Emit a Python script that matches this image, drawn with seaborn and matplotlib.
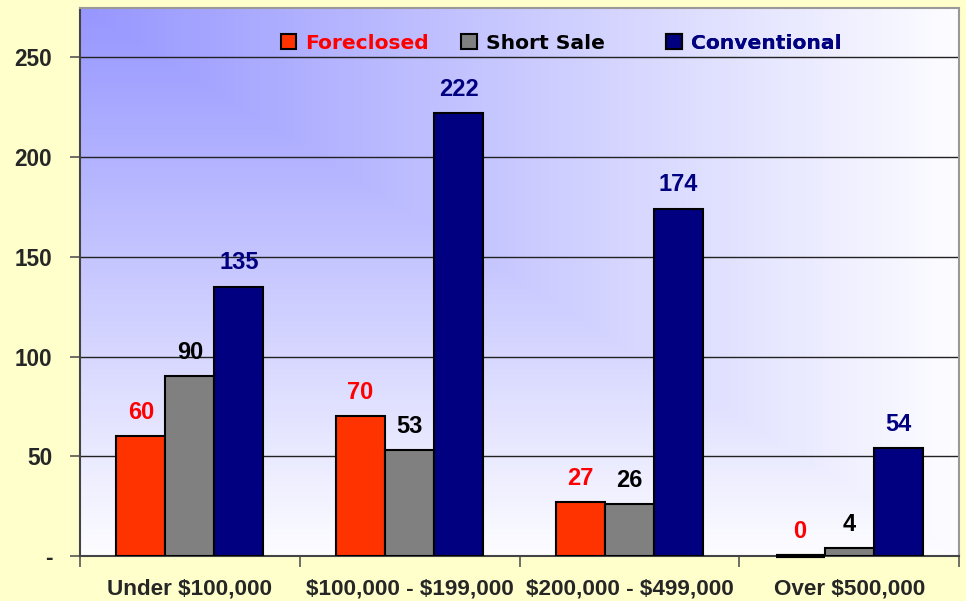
import numpy as np
import pandas as pd
import matplotlib
matplotlib.use("Agg")
import matplotlib.pyplot as plt
import seaborn as sns
from matplotlib.ticker import FuncFormatter

# Sales counts by price range
categories = ["Under $100,000", "$100,000 - $199,000", "$200,000 - $499,000", "Over $500,000"]
series_names = ["Foreclosed", "Short Sale", "Conventional"]
foreclosed = [60, 70, 27, 0]
short_sale = [90, 53, 26, 4]
conventional = [135, 222, 174, 54]
y_ticks = [0, 50, 100, 150, 200, 250]

bar_colors = ["#FF3300", "#808080", "#000080"]
label_colors = ["#FF0000", "#000000", "#000080"]

df = pd.DataFrame({
    "category": categories * 3,
    "series": [s for s in series_names for _ in categories],
    "value": foreclosed + short_sale + conventional,
})

sns.set_style("white")
plt.rcParams["font.family"] = ["Liberation Sans", "DejaVu Sans"]
plt.rcParams["text.parse_math"] = False

fig = plt.figure(figsize=(9.66, 6.01), dpi=100, facecolor="#FFFFCC")
ax = fig.add_axes([0.0828, 0.0749, 0.9100, 0.9126])

# Corner gradient for the plot area: blue at top-left fading to white
ny, nx = 300, 450
xx, yy = np.meshgrid(np.linspace(0, 1, nx), np.linspace(0, 1, ny))
t = np.clip(np.maximum(xx, yy), 0, 1)
start = np.array([150, 150, 255]) / 255.0
end = np.array([253, 253, 255]) / 255.0
grad = start[None, None, :] * (1 - t[..., None]) + end[None, None, :] * t[..., None]
ax.imshow(grad, extent=[0, 1, 0, 1], transform=ax.transAxes, aspect="auto",
          zorder=0, origin="upper", interpolation="bilinear")

sns.barplot(data=df, x="category", y="value", hue="series", order=categories,
            hue_order=series_names, palette=bar_colors, width=0.67, gap=0,
            edgecolor="black", linewidth=1.5, saturation=1, ax=ax, zorder=3,
            legend=True)

# Value labels above each bar; zero-height bars get a visible outline on the baseline
for container, col in zip(ax.containers, label_colors):
    for bar in container:
        h = bar.get_height()
        if h == 0:
            x0 = bar.get_x()
            ax.plot([x0, x0 + bar.get_width()], [h, h], color="black", lw=3,
                    solid_capstyle="butt", zorder=4, clip_on=False)
        ax.annotate(f"{h:.0f}", (bar.get_x() + bar.get_width() / 2, h),
                    xytext=(0, 9), textcoords="offset points",
                    ha="center", va="bottom", fontsize=17, fontweight="bold",
                    color=col, zorder=5)

ax.set_xlim(-0.5, 3.5)
ax.set_ylim(0, 275)
ax.set_yticks(y_ticks)
ax.yaxis.set_major_formatter(FuncFormatter(lambda v, p: "-" if v == 0 else f"{v:.0f}"))
ax.set_xlabel("")
ax.set_ylabel("")

ax.grid(axis="y", color="#222222", linewidth=1.0, zorder=1)
ax.set_axisbelow(True)
for gl in ax.get_ygridlines():
    gl.set_zorder(1)

ax.tick_params(axis="y", which="major", length=7, width=1.2, color="#555555",
               pad=13, labelsize=16.3, direction="out", left=True)
ax.tick_params(axis="x", which="major", length=0, pad=16, labelsize=16.2)
ax.set_xticks([-0.5, 0.5, 1.5, 2.5, 3.5], minor=True)
ax.tick_params(axis="x", which="minor", length=8, width=1.2, color="#555555",
               direction="out", bottom=True)
for lab in ax.get_xticklabels() + ax.get_yticklabels():
    lab.set_fontweight("bold")

for side in ["left", "bottom"]:
    ax.spines[side].set_color("#444444")
    ax.spines[side].set_linewidth(1.5)
for side in ["top", "right"]:
    ax.spines[side].set_color("#999999")
    ax.spines[side].set_linewidth(1.5)
for sp in ax.spines.values():
    sp.set_zorder(2.5)

# Legend: one entry per box so each sits at its own place along the top
handles, labels = ax.get_legend_handles_labels()
ax.get_legend().remove()
legend_x = [0.229, 0.434, 0.667]
for hnd, lab, col, lx in zip(handles, labels, label_colors, legend_x):
    leg = ax.legend([hnd], [lab], loc="center left", bbox_to_anchor=(lx, 0.935),
                    frameon=False, borderpad=0, borderaxespad=0,
                    handlelength=0.75, handleheight=0.75, handletextpad=0.45,
                    prop={"family": "DejaVu Sans", "weight": "bold", "size": 14.6})
    leg.get_texts()[0].set_color(col)
    lh = leg.legend_handles[0]
    lh.set_edgecolor("black")
    lh.set_linewidth(1.5)
    leg.set_zorder(7)
    ax.add_artist(leg)

fig.savefig("out.png", dpi=100, facecolor=fig.get_facecolor())
